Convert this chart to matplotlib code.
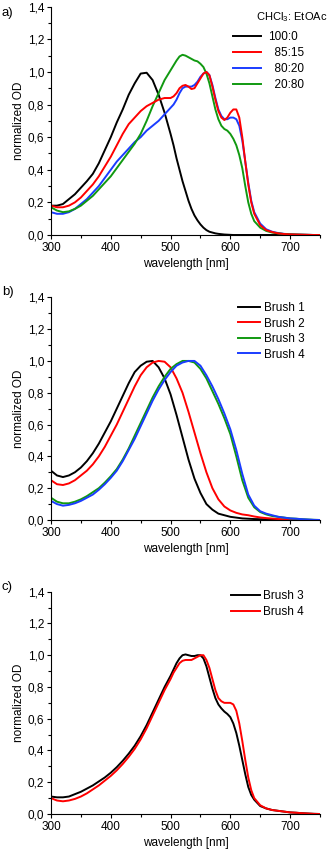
import matplotlib
matplotlib.use('Agg')
import matplotlib.pyplot as plt
from matplotlib.ticker import MultipleLocator, FuncFormatter

plt.rcParams['font.family'] = ['Liberation Sans', 'DejaVu Sans']
plt.rcParams['mathtext.fontset'] = 'custom'
plt.rcParams['mathtext.rm'] = 'Liberation Sans'
plt.rcParams['mathtext.it'] = 'Liberation Sans'

# ---------------- data ----------------
wl_fine = [300, 310, 320, 330, 340, 350, 360, 370, 380, 390, 400, 410, 420, 430, 440, 450, 460, 470, 480, 490,
           500, 505, 510, 515, 520, 525, 530, 535, 540, 545, 550, 555, 560, 565, 570, 575, 580, 585, 590, 595,
           600, 605, 610, 615, 620, 625, 630, 635,
           640, 650, 660, 670, 680, 690, 700, 710, 720, 730, 740, 750]
wl_b = list(range(300, 751, 10))

# panel a: CHCl3:EtOAc ratios
a_labels = ['100:0', '  85:15', '  80:20', '  20:80']
a_100_0 = [0.18, 0.18, 0.19, 0.22, 0.25, 0.29, 0.33, 0.375, 0.44, 0.52, 0.60, 0.69, 0.77, 0.86, 0.93, 0.99, 0.995, 0.95, 0.86, 0.75,
           0.62, 0.55, 0.47, 0.40, 0.33, 0.27, 0.21, 0.16, 0.12, 0.09, 0.065, 0.045, 0.03, 0.02, 0.015, 0.01, 0.007, 0.005, 0.003, 0.002,
           0.001, 0.0, 0.0, 0.0, 0.0, 0.0, 0.0, 0.0,
           0.0, 0.0, 0.0, 0.0, 0.0, 0.0, 0.0, 0.0, 0.0, 0.0, 0.0, 0.0]
a_85_15 = [0.18, 0.17, 0.17, 0.18, 0.20, 0.23, 0.27, 0.31, 0.36, 0.42, 0.48, 0.55, 0.62, 0.68, 0.72, 0.76, 0.79, 0.81, 0.83, 0.84,
           0.84, 0.85, 0.87, 0.90, 0.915, 0.92, 0.91, 0.895, 0.90, 0.93, 0.96, 0.99, 1.00, 0.98, 0.91, 0.83, 0.76, 0.72, 0.705, 0.72,
           0.75, 0.77, 0.77, 0.72, 0.60, 0.45, 0.31, 0.20,
           0.13, 0.06, 0.03, 0.018, 0.01, 0.006, 0.004, 0.003, 0.002, 0.001, 0.0, 0.0]
a_80_20 = [0.14, 0.13, 0.13, 0.14, 0.16, 0.19, 0.22, 0.26, 0.30, 0.35, 0.40, 0.45, 0.49, 0.53, 0.57, 0.60, 0.64, 0.67, 0.70, 0.74,
           0.78, 0.80, 0.83, 0.87, 0.90, 0.91, 0.91, 0.91, 0.92, 0.94, 0.97, 0.99, 1.00, 0.98, 0.92, 0.84, 0.77, 0.73, 0.71, 0.71,
           0.72, 0.72, 0.71, 0.67, 0.58, 0.45, 0.32, 0.21,
           0.14, 0.07, 0.035, 0.02, 0.012, 0.007, 0.005, 0.003, 0.002, 0.001, 0.0, 0.0]
a_20_80 = [0.17, 0.15, 0.14, 0.145, 0.16, 0.18, 0.21, 0.24, 0.28, 0.32, 0.36, 0.41, 0.46, 0.51, 0.56, 0.62, 0.70, 0.79, 0.87, 0.95,
           1.01, 1.04, 1.07, 1.095, 1.105, 1.10, 1.09, 1.08, 1.07, 1.065, 1.05, 1.03, 0.99, 0.93, 0.85, 0.77, 0.71, 0.67, 0.65, 0.64,
           0.62, 0.59, 0.55, 0.49, 0.41, 0.30, 0.20, 0.13,
           0.085, 0.045, 0.025, 0.015, 0.01, 0.006, 0.004, 0.003, 0.002, 0.001, 0.0, 0.0]

# panel b: brushes
b_labels = ['Brush 1', 'Brush 2', 'Brush 3', 'Brush 4']
b_brush1 = [0.31, 0.28, 0.27, 0.28, 0.30, 0.33, 0.37, 0.42, 0.48, 0.55, 0.62, 0.70, 0.78, 0.86, 0.93, 0.97, 0.995, 1.00, 0.96, 0.89,
            0.79, 0.66, 0.52, 0.38, 0.26, 0.17, 0.10, 0.065, 0.04, 0.03, 0.02, 0.015, 0.01, 0.008, 0.006, 0.005, 0.004, 0.003, 0.002, 0.002,
            0.001, 0.001, 0.0, 0.0, 0.0, 0.0]
b_brush2 = [0.25, 0.225, 0.22, 0.23, 0.25, 0.28, 0.31, 0.35, 0.40, 0.46, 0.53, 0.60, 0.68, 0.76, 0.84, 0.91, 0.96, 0.99, 1.00, 0.995,
            0.96, 0.89, 0.80, 0.68, 0.55, 0.42, 0.30, 0.20, 0.13, 0.085, 0.06, 0.045, 0.035, 0.03, 0.022, 0.016, 0.012, 0.009, 0.006, 0.004,
            0.003, 0.002, 0.001, 0.0, 0.0, 0.0]
b_brush3 = [0.14, 0.115, 0.105, 0.105, 0.115, 0.13, 0.15, 0.175, 0.20, 0.235, 0.275, 0.32, 0.38, 0.45, 0.53, 0.61, 0.69, 0.77, 0.84, 0.90,
            0.95, 0.98, 1.00, 1.00, 0.99, 0.95, 0.89, 0.81, 0.73, 0.64, 0.54, 0.40, 0.25, 0.14, 0.08, 0.05, 0.035, 0.025, 0.02, 0.015,
            0.01, 0.008, 0.005, 0.003, 0.001, 0.0]
b_brush4 = [0.12, 0.10, 0.09, 0.095, 0.105, 0.12, 0.14, 0.16, 0.19, 0.225, 0.265, 0.31, 0.37, 0.44, 0.51, 0.59, 0.67, 0.75, 0.82, 0.88,
            0.93, 0.97, 0.99, 1.00, 1.00, 0.97, 0.91, 0.84, 0.76, 0.67, 0.57, 0.44, 0.29, 0.16, 0.09, 0.055, 0.04, 0.03, 0.02, 0.015,
            0.01, 0.008, 0.005, 0.003, 0.001, 0.0]

# panel c: brushes 3 and 4
c_labels = ['Brush 3', 'Brush 4']
c_brush3 = [0.11, 0.105, 0.105, 0.11, 0.125, 0.14, 0.16, 0.18, 0.205, 0.23, 0.26, 0.295, 0.335, 0.38, 0.43, 0.49, 0.56, 0.64, 0.72, 0.80,
            0.87, 0.91, 0.95, 0.98, 1.00, 1.005, 1.00, 0.995, 0.995, 1.00, 1.00, 0.98, 0.93, 0.86, 0.79, 0.73, 0.69, 0.665, 0.645, 0.63,
            0.61, 0.57, 0.51, 0.43, 0.34, 0.25, 0.17, 0.12,
            0.09, 0.05, 0.035, 0.025, 0.02, 0.015, 0.01, 0.008, 0.005, 0.003, 0.001, 0.0]
c_brush4 = [0.10, 0.085, 0.08, 0.085, 0.095, 0.11, 0.13, 0.155, 0.18, 0.21, 0.24, 0.275, 0.315, 0.36, 0.41, 0.47, 0.54, 0.62, 0.70, 0.78,
            0.85, 0.89, 0.92, 0.95, 0.965, 0.97, 0.97, 0.97, 0.98, 0.99, 1.00, 1.00, 0.97, 0.92, 0.85, 0.78, 0.73, 0.71, 0.70, 0.70,
            0.70, 0.69, 0.65, 0.57, 0.46, 0.34, 0.23, 0.15,
            0.10, 0.055, 0.035, 0.025, 0.02, 0.015, 0.01, 0.008, 0.005, 0.003, 0.001, 0.0]

BLACK = '#000000'
RED = '#ff0000'
BLUE = '#1a3cff'
GREEN = '#119911'

# ---------------- figure ----------------
W, H = 334, 851
fig = plt.figure(figsize=(W / 100, H / 100), dpi=100)
FS = 8.5


def px_axes(left, top, right, bottom):
    return fig.add_axes([left / W, 1 - bottom / H, (right - left) / W, (bottom - top) / H])


def style(ax):
    ax.set_xlim(300, 750)
    ax.set_ylim(0, 1.4)
    ax.spines['top'].set_visible(False)
    ax.spines['right'].set_visible(False)
    for s in ('left', 'bottom'):
        ax.spines[s].set_linewidth(0.8)
    ax.xaxis.set_major_locator(MultipleLocator(100))
    ax.xaxis.set_minor_locator(MultipleLocator(50))
    ax.yaxis.set_major_locator(MultipleLocator(0.2))
    ax.yaxis.set_minor_locator(MultipleLocator(0.1))
    ax.yaxis.set_major_formatter(FuncFormatter(lambda v, p: f"{v:.1f}".replace('.', ',')))
    ax.tick_params(which='major', direction='out', length=3, width=0.8, labelsize=FS, pad=2)
    ax.tick_params(which='minor', direction='out', length=2, width=0.8)
    ax.set_xlabel('wavelength [nm]', fontsize=FS, labelpad=3)
    ax.set_ylabel('normalized OD', fontsize=FS, labelpad=2)


LW = 1.4

# panel a
axa = px_axes(51, 6.7, 320, 235)
style(axa)
la1, = axa.plot(wl_fine, a_100_0, color=BLACK, lw=LW)
la3, = axa.plot(wl_fine, a_80_20, color=BLUE, lw=LW)
la4, = axa.plot(wl_fine, a_20_80, color=GREEN, lw=LW)
la2, = axa.plot(wl_fine, a_85_15, color=RED, lw=LW)
axa.legend([la1, la2, la3, la4], a_labels, loc='upper left', bbox_to_anchor=(233 / W, 1 - 31 / H),
           bbox_transform=fig.transFigure, frameon=False, fontsize=FS, borderpad=0, borderaxespad=0,
           handlelength=2.4, handletextpad=0.55, labelspacing=0.33)
fig.text(327 / W, 1 - 17 / H, r'CHCl$_\mathregular{3}$: EtOAc', fontsize=8, ha='right', va='center')
fig.text(2 / W, 1 - 13 / H, 'a)', fontsize=9.5, ha='left', va='center')

# panel b
axb = px_axes(51, 297.3, 320, 520)
style(axb)
lb1, = axb.plot(wl_b, b_brush1, color=BLACK, lw=LW)
lb2, = axb.plot(wl_b, b_brush2, color=RED, lw=LW)
lb3, = axb.plot(wl_b, b_brush3, color=GREEN, lw=LW)
lb4, = axb.plot(wl_b, b_brush4, color=BLUE, lw=LW)
axb.legend([lb1, lb2, lb3, lb4], b_labels, loc='upper left', bbox_to_anchor=(238 / W, 1 - 302 / H),
           bbox_transform=fig.transFigure, frameon=False, fontsize=FS, borderpad=0, borderaxespad=0,
           handlelength=1.9, handletextpad=0.3, labelspacing=0.3)
fig.text(2 / W, 1 - 292 / H, 'b)', fontsize=9.5, ha='left', va='center')

# panel c
axc = px_axes(51, 591.7, 320, 814)
style(axc)
lc1, = axc.plot(wl_fine, c_brush3, color=BLACK, lw=LW)
lc2, = axc.plot(wl_fine, c_brush4, color=RED, lw=LW)
axc.legend([lc1, lc2], c_labels, loc='upper left', bbox_to_anchor=(231 / W, 1 - 590 / H),
           bbox_transform=fig.transFigure, frameon=False, fontsize=FS, borderpad=0, borderaxespad=0,
           handlelength=2.45, handletextpad=0.3, labelspacing=0.33)
fig.text(2 / W, 1 - 587 / H, 'c)', fontsize=9.5, ha='left', va='center')

fig.savefig('out.png', dpi=100)
